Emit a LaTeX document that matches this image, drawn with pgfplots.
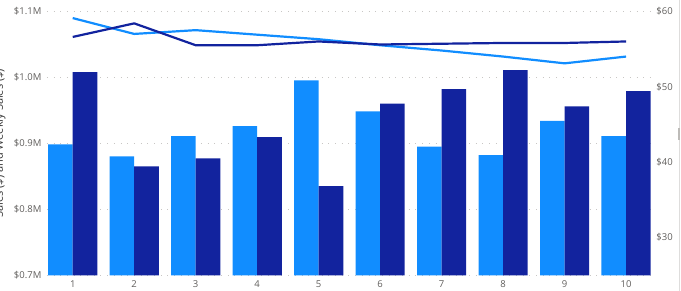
\documentclass[border=0pt]{standalone}
\usepackage{pgfplots}
\pgfplotsset{compat=1.18}
\usepackage{fontspec}
\setmainfont{Open Sans}
\definecolor{lightb}{HTML}{118DFF}
\definecolor{darkb}{HTML}{12239E}
\definecolor{lbl}{HTML}{605E5C}
\definecolor{gridc}{HTML}{C8C6C4}
\begin{document}
\begin{tikzpicture}[x=1pt,y=1pt]
\pgfplotsset{
  common/.style={
    width=605pt, height=264pt, scale only axis,
    at={(0,0)}, anchor=south west,
    xmin=0.58, xmax=10.42,
    axis line style={draw=none},
    tick style={draw=none},
    tick label style={font=\fontsize{9.5}{11}\selectfont, text=lbl},
    /pgf/number format/assume math mode=true,
  }
}
\begin{axis}[common,
  ybar, bar width=0.4,
  ymin=0.7, ymax=1.1,
  ytick={0.7,0.8,0.9,1.0,1.1},
  yticklabels={\$0.7M,\$0.8M,\$0.9M,\$1.0M,\$1.1M},
  xtick={1,...,10},
  xticklabel style={yshift=2.5pt},
  ymajorgrids,
  grid style={gridc, line width=0.9pt, dash pattern=on 0.9pt off 5.8pt},
  axis on top=false,
  yticklabel style={xshift=-2pt},
]
\addplot[fill=lightb, draw=none, bar shift=-0.2] coordinates {
(1,0.8985) (2,0.880) (3,0.911) (4,0.926) (5,0.9955)
(6,0.9485) (7,0.895) (8,0.882) (9,0.934) (10,0.911)};
\addplot[fill=darkb, draw=none, bar shift=0.2] coordinates {
(1,1.008) (2,0.865) (3,0.877) (4,0.9095) (5,0.835)
(6,0.960) (7,0.982) (8,1.011) (9,0.956) (10,0.979)};
\end{axis}
\begin{axis}[common,
  axis y line*=right,
  axis x line=none,
  ymin=25, ymax=60,
  ytick={30,40,50,60},
  yticklabels={\$30,\$40,\$50,\$60},
  yticklabel style={xshift=1pt},
]
\addplot[color=lightb, line width=2.2pt, line join=round] coordinates {
(1,59.1) (2,57.0) (3,57.5) (4,56.9) (5,56.3)
(6,55.5) (7,54.8) (8,54.0) (9,53.1) (10,54.0)};
\addplot[color=darkb, line width=2.2pt, line join=round] coordinates {
(1,56.6) (2,58.4) (3,55.5) (4,55.5) (5,56.0)
(6,55.6) (7,55.7) (8,55.8) (9,55.8) (10,56.0)};
\end{axis}
\node[rotate=90, font=\fontsize{11}{13}\selectfont, text=black!80] at (-47pt,132pt) {Sales (\$) and Weekly Sales (\$)};
\fill[gridc!60] (632.5pt,-15.7pt) rectangle (633.5pt,275.3pt);
\fill[gridc!120] (631pt,135pt) rectangle (633.5pt,147pt);
\pgfresetboundingbox
\path[use as bounding box] (-46.9pt,-15.7pt) rectangle (634.1pt,275.3pt);
\end{tikzpicture}
\end{document}
